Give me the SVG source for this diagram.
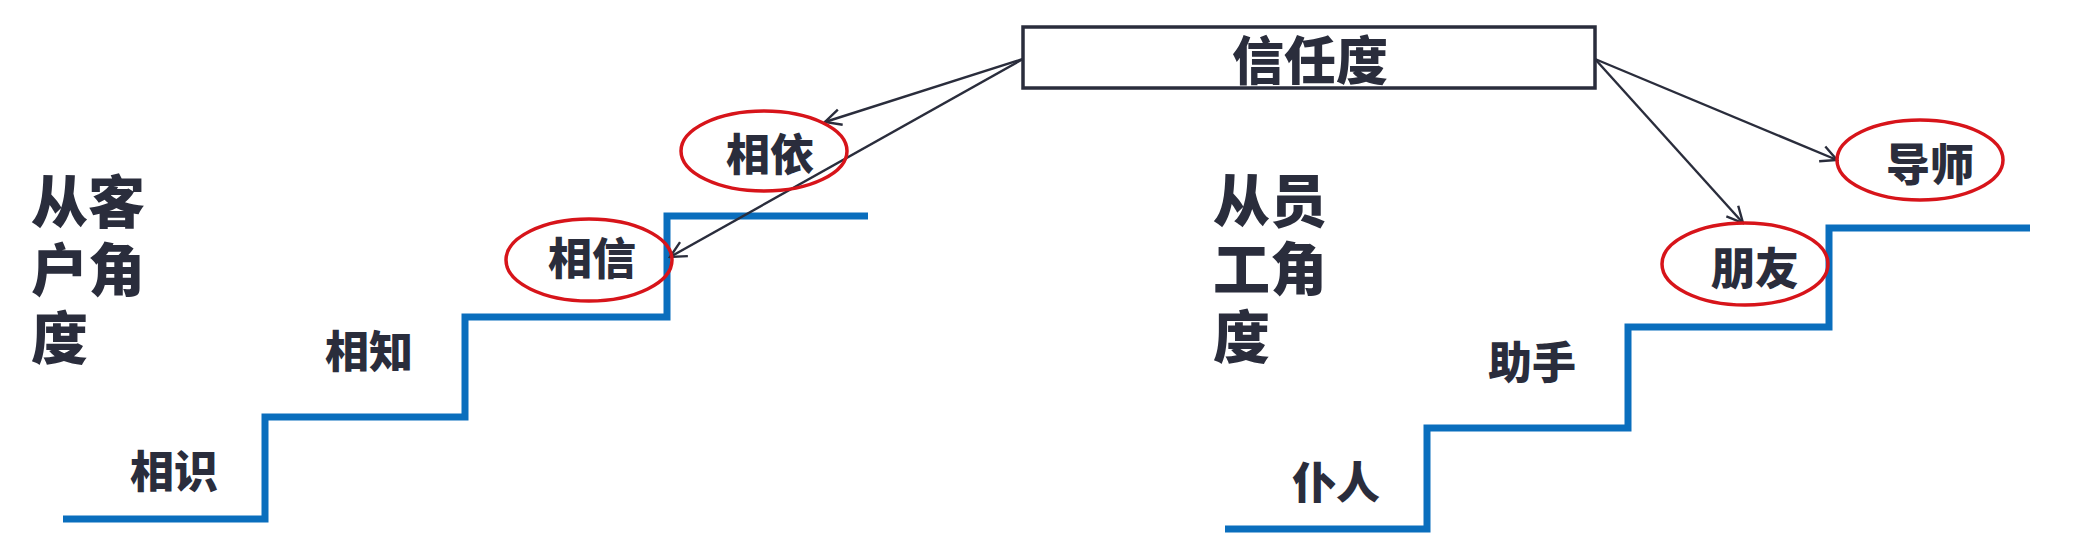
<svg xmlns="http://www.w3.org/2000/svg" width="2090" height="549" viewBox="0 0 2090 549">
<style>
.t{font-family:"Noto Sans CJK SC","Noto Sans CJK JP",sans-serif;font-weight:900;fill:#2a2d3c;text-anchor:middle;dominant-baseline:central}
.s{font-size:44px}
.big{font-size:57px;text-anchor:start}
.stair{fill:none;stroke:#0a6ebd;stroke-width:7;stroke-linejoin:miter}
.ell{fill:none;stroke:#d7141a;stroke-width:3.5}
.box{fill:#fff;stroke:#2a2d3c;stroke-width:3.5}
.con{stroke:#2a2d3c;stroke-width:2.4;fill:none;marker-end:url(#ah)}
</style>
<defs>
<marker id="ah" viewBox="0 0 20 20" refX="18" refY="10" markerWidth="20" markerHeight="20" markerUnits="userSpaceOnUse" orient="auto">
<path d="M2,2 L18,10 L2,18" fill="none" stroke="#2a2d3c" stroke-width="2.4"/>
</marker>
</defs>
<rect width="2090" height="549" fill="#fff"/>
<g id="stairs-left"><path class="stair" d="M63,519 H265 V417 H465 V317 H667 V216 H868"/></g>
<g id="stairs-right"><path class="stair" d="M1225,529 H1427 V428 H1628 V327 H1829 V228 H2030"/></g>
<g id="connectors">
<line class="con" x1="1023" y1="59" x2="825" y2="122"/>
<line class="con" x1="1023" y1="59" x2="670" y2="257"/>
<line class="con" x1="1595" y1="59" x2="1743" y2="223"/>
<line class="con" x1="1595" y1="59" x2="1837" y2="160"/>
</g>
<g id="trust"><rect class="box" x="1023" y="27" width="572" height="61"/><text class="t" x="1310" y="57" style="font-size:52px">信任度</text></g>
<g id="customer-view"><text class="t big" x="31" y="198">从客<tspan x="31" dy="68">户角</tspan><tspan x="31" dy="68">度</tspan></text></g>
<g id="employee-view"><text class="t big" x="1213" y="197">从员<tspan x="1213" dy="68">工角</tspan><tspan x="1213" dy="68">度</tspan></text></g>
<g id="xiangshi"><text class="t s" x="174" y="469">相识</text></g>
<g id="xiangzhi"><text class="t s" x="369" y="349">相知</text></g>
<g id="xiangxin"><ellipse class="ell" cx="589" cy="260" rx="83" ry="41"/><text class="t s" x="592" y="256">相信</text></g>
<g id="xiangyi"><ellipse class="ell" cx="764" cy="151" rx="83" ry="40"/><text class="t s" x="770" y="152">相依</text></g>
<g id="puren"><text class="t s" x="1336" y="480">仆人</text></g>
<g id="zhushou"><text class="t s" x="1532" y="360">助手</text></g>
<g id="pengyou"><ellipse class="ell" cx="1745" cy="264" rx="83" ry="41"/><text class="t s" x="1755" y="266">朋友</text></g>
<g id="daoshi"><ellipse class="ell" cx="1920" cy="160" rx="83" ry="40"/><text class="t s" x="1930" y="162">导师</text></g>
</svg>
